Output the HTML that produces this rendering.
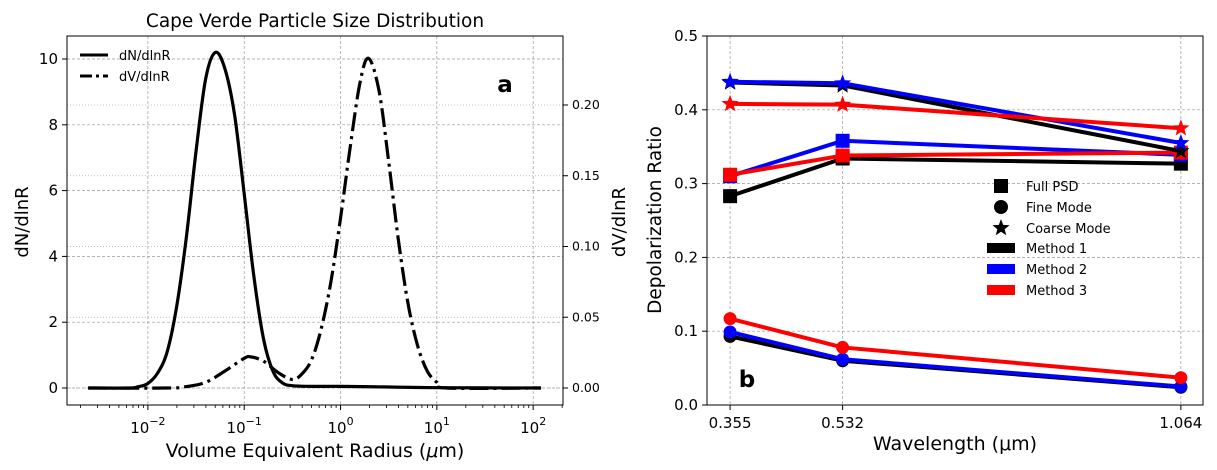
<!DOCTYPE html>
<html><head><meta charset="utf-8">
<style>
html,body{margin:0;padding:0;background:#fff;}
svg{display:block;font-family:"DejaVu Sans","Liberation Sans",sans-serif;}
</style></head>
<body>
<svg id="fig" width="1217" height="470" viewBox="0 0 1217 470" xmlns="http://www.w3.org/2000/svg">
<g id="left"></g>
<g id="right"></g>
</svg>
<script>
// ---------- Left chart data ----------
const psdLogR = [-2.62,-2.2,-2.1,-2.0,-1.9,-1.8,-1.7,-1.6,-1.5,-1.4,-1.3,-1.2,-1.1,-1.0,-0.9,-0.8,-0.7,-0.6,-0.5,-0.3,0,0.5,1,2.08];
const dNdlnR = [0,0,0.04,0.14,0.45,1.1,2.5,4.6,7.2,9.4,10.2,9.7,8.3,5.9,3.4,1.5,0.5,0.15,0.07,0.05,0.05,0.03,0.01,0];
const dvLogR = [-2.62,-1.8,-1.6,-1.4,-1.2,-1.0,-0.93,-0.8,-0.65,-0.5,-0.4,-0.3,-0.2,-0.1,0,0.1,0.2,0.29,0.4,0.5,0.6,0.7,0.8,0.9,1.0,1.1,2.08];
const dVdlnR = [0,0,0.001,0.004,0.012,0.021,0.022,0.019,0.011,0.006,0.01,0.02,0.042,0.075,0.12,0.17,0.215,0.233,0.21,0.16,0.105,0.06,0.03,0.012,0.004,0,0];
const leftYTicks = [0,2,4,6,8,10];
const rightYTicks = [0,0.05,0.10,0.15,0.20];
const rightYTickLabels = ["0.00","0.05","0.10","0.15","0.20"];
const xDecades = [-2,-1,0,1,2];
// ---------- Right chart data ----------
const wavelengths = [0.355,0.532,1.064];
const wlLabels = ["0.355","0.532","1.064"];
const m1Full = [0.283,0.334,0.327];
const m2Full = [0.310,0.358,0.339];
const m3Full = [0.312,0.338,0.342];
const m1Fine = [0.093,0.060,0.024];
const m2Fine = [0.099,0.062,0.025];
const m3Fine = [0.117,0.078,0.037];
const m1Coarse = [0.437,0.433,0.344];
const m2Coarse = [0.438,0.436,0.355];
const m3Coarse = [0.408,0.407,0.375];
const depYTicks = [0,0.1,0.2,0.3,0.4,0.5];
const depYLabels = ["0.0","0.1","0.2","0.3","0.4","0.5"];

const NS="http://www.w3.org/2000/svg";
function mk(parent,tag,attrs,text){const e=document.createElementNS(NS,tag);for(const k in attrs)e.setAttribute(k,attrs[k]);if(text!==undefined)e.textContent=text;parent.appendChild(e);return e;}
function smooth(pts){let d=`M${pts[0][0]},${pts[0][1]}`;for(let i=0;i<pts.length-1;i++){const p0=pts[Math.max(0,i-1)],p1=pts[i],p2=pts[i+1],p3=pts[Math.min(pts.length-1,i+2)];const c1=[p1[0]+(p2[0]-p0[0])/6,p1[1]+(p2[1]-p0[1])/6];const c2=[p2[0]-(p3[0]-p1[0])/6,p2[1]-(p3[1]-p1[1])/6];d+=`C${c1[0]},${c1[1]} ${c2[0]},${c2[1]} ${p2[0]},${p2[1]}`;}return d;}

// ---------- LEFT ----------
const L=document.getElementById('left');
const lx0=67,lx1=563,ly0=36,ly1=405;
const lxmin=-2.84,lxmax=2.31;
const lX=v=>lx0+(v-lxmin)/(lxmax-lxmin)*(lx1-lx0);
const lY=v=>388-v*32.9;
const rY=v=>388-v*1415;
xDecades.forEach(d=>{const g=mk(L,'line',{x1:lX(d),x2:lX(d),y1:ly0,y2:ly1,stroke:'#999','stroke-width':0.7,'stroke-dasharray':'3,2'});

});
leftYTicks.forEach(t=>{const g=mk(L,'line',{x1:lx0,x2:lx1,y1:lY(t),y2:lY(t),stroke:'#999','stroke-width':0.7,'stroke-dasharray':'3,2'});

});
rightYTicks.forEach(t=>{const g=mk(L,'line',{x1:lx0,x2:lx1,y1:rY(t),y2:rY(t),stroke:'#aaa','stroke-width':0.7,'stroke-dasharray':'1,2'});

});
const dnPath=mk(L,'path',{d:smooth(psdLogR.map((r,i)=>[lX(r),lY(dNdlnR[i])])),fill:'none',stroke:'#000','stroke-width':3.2,'stroke-linejoin':'round'});


const dvPath=mk(L,'path',{d:smooth(dvLogR.map((r,i)=>[lX(r),rY(dVdlnR[i])])),fill:'none',stroke:'#000','stroke-width':3.2,'stroke-dasharray':'19,5,3,5'});


const lf=mk(L,'rect',{x:lx0,y:ly0,width:lx1-lx0,height:ly1-ly0,fill:'none',stroke:'#000','stroke-width':1});


xDecades.forEach(d=>{mk(L,'line',{x1:lX(d),x2:lX(d),y1:ly1,y2:ly1+5,stroke:'#000'});
const t=mk(L,'text',{x:lX(d),y:ly1+28,'font-size':15,'text-anchor':'middle'});


mk(t,'tspan',{},'10');mk(t,'tspan',{dy:-8,'font-size':11},String(d).replace('-','\u2212'));});
for(let d=-3;d<=2;d++){for(let k=2;k<=9;k++){const v=d+Math.log10(k);if(v>lxmin&&v<lxmax)mk(L,'line',{x1:lX(v),x2:lX(v),y1:ly1,y2:ly1+3,stroke:'#000','stroke-width':0.8});}}
leftYTicks.forEach(t=>{mk(L,'line',{x1:lx0-5,x2:lx0,y1:lY(t),y2:lY(t),stroke:'#000'});
const e=mk(L,'text',{x:lx0-9,y:lY(t)+5,'font-size':15,'text-anchor':'end'},String(t));

});
rightYTicks.forEach((t,i)=>{mk(L,'line',{x1:lx1,x2:lx1+5,y1:rY(t),y2:rY(t),stroke:'#000'});
const e=mk(L,'text',{x:lx1+9,y:rY(t)+4,'font-size':12.5},rightYTickLabels[i]);

});
</script>
<script>
(function(){
const L=document.getElementById('left');
L.insertAdjacentHTML('beforeend',`
<text x="315" y="27" font-size="18.5" text-anchor="middle">Cape Verde Particle Size Distribution</text>
<text x="315" y="457" font-size="19" text-anchor="middle">Volume Equivalent Radius (<tspan font-style="italic">μ</tspan>m)</text>
<text transform="translate(28,222) rotate(-90)" font-size="18" text-anchor="middle">dN/dlnR</text>
<text transform="translate(625,222) rotate(-90)" font-size="18" text-anchor="middle">dV/dlnR</text>
<text x="505" y="92" font-size="23" font-weight="bold" text-anchor="middle">a</text>
<g>
<line x1="80" x2="108" y1="55" y2="55" stroke="#000" stroke-width="3"/>
<text x="119" y="60" font-size="13">dN/dlnR</text>
<line x1="80" x2="108" y1="76" y2="76" stroke="#000" stroke-width="3" stroke-dasharray="12,4,3,4"/>
<text x="119" y="81" font-size="13">dV/dlnR</text>
</g>`);
})();
</script>
<script>
(function(){
const R=document.getElementById('right');
const x0=707,x1=1203,y0=36,y1=405;
const X=v=>x0+(v-0.3187)/(1.0988-0.3187)*(x1-x0);
const Y=v=>405-v*738;
wavelengths.forEach(w=>{const g=mk(R,'line',{x1:X(w),x2:X(w),y1:y0,y2:y1,stroke:'#999','stroke-width':0.7,'stroke-dasharray':'3,2'});

});
depYTicks.forEach(t=>{const g=mk(R,'line',{x1:x0,x2:x1,y1:Y(t),y2:Y(t),stroke:'#999','stroke-width':0.7,'stroke-dasharray':'3,2'});

});
function star(cx,cy,r){let p=[];for(let i=0;i<10;i++){const a=-Math.PI/2+i*Math.PI/5;const rr=i%2?r*0.42:r;p.push((cx+rr*Math.cos(a)).toFixed(1)+','+(cy+rr*Math.sin(a)).toFixed(1));}return p.join(' ');}
function series(vals,color,marker,name){
  const g=mk(R,'g',{});
  
  
  const pl=mk(g,'polyline',{points:vals.map((v,i)=>X(wavelengths[i])+','+Y(v)).join(' '),fill:'none',stroke:color,'stroke-width':4,'stroke-linejoin':'round'});
  
  
  vals.forEach((v,i)=>{const cx=X(wavelengths[i]),cy=Y(v);let m;
    if(marker==='s')m=mk(g,'rect',{x:cx-7,y:cy-7,width:14,height:14,fill:color});
    else if(marker==='o')m=mk(g,'circle',{cx:cx,cy:cy,r:6.5,fill:color});
    else m=mk(g,'polygon',{points:star(cx,cy,9),fill:color});
    
    });
}
series(m1Fine,'#000','o','method1-fine');
series(m2Fine,'#0000ff','o','method2-fine');
series(m3Fine,'#ff0000','o','method3-fine');
series(m1Full,'#000','s','method1-full');
series(m2Full,'#0000ff','s','method2-full');
series(m3Full,'#ff0000','s','method3-full');
series(m1Coarse,'#000','*','method1-coarse');
series(m2Coarse,'#0000ff','*','method2-coarse');
series(m3Coarse,'#ff0000','*','method3-coarse');
const f=mk(R,'rect',{x:x0,y:y0,width:x1-x0,height:y1-y0,fill:'none',stroke:'#000','stroke-width':1});


wavelengths.forEach((w,i)=>{mk(R,'line',{x1:X(w),x2:X(w),y1:y1,y2:y1+5,stroke:'#000'});
const t=mk(R,'text',{x:X(w),y:y1+23,'font-size':15,'text-anchor':'middle'},wlLabels[i]);

});
depYTicks.forEach((v,i)=>{mk(R,'line',{x1:x0-5,x2:x0,y1:Y(v),y2:Y(v),stroke:'#000'});
const t=mk(R,'text',{x:x0-9,y:Y(v)+5,'font-size':15,'text-anchor':'end'},depYLabels[i]);

});
R.insertAdjacentHTML('beforeend',`
<text x="955" y="450" font-size="19" text-anchor="middle">Wavelength (μm)</text>
<text transform="translate(661,220) rotate(-90)" font-size="18.5" text-anchor="middle">Depolarization Ratio</text>
<text x="747" y="387" font-size="23" font-weight="bold" text-anchor="middle">b</text>
<g>
<rect x="994" y="179" width="14" height="14" fill="#000"/>
<text x="1026" y="191" font-size="13">Full PSD</text>
<circle cx="1001" cy="207" r="7" fill="#000"/>
<text x="1026" y="212" font-size="13">Fine Mode</text>
<polygon points="${star(1001,228,9)}" fill="#000"/>
<text x="1026" y="233" font-size="13">Coarse Mode</text>
<rect x="987" y="243" width="28" height="10" fill="#000"/>
<text x="1026" y="253" font-size="13">Method 1</text>
<rect x="987" y="264" width="28" height="10" fill="#0000ff"/>
<text x="1026" y="274" font-size="13">Method 2</text>
<rect x="987" y="285" width="28" height="10" fill="#ff0000"/>
<text x="1026" y="295" font-size="13">Method 3</text>
</g>`);
})();
</script>
</body></html>
